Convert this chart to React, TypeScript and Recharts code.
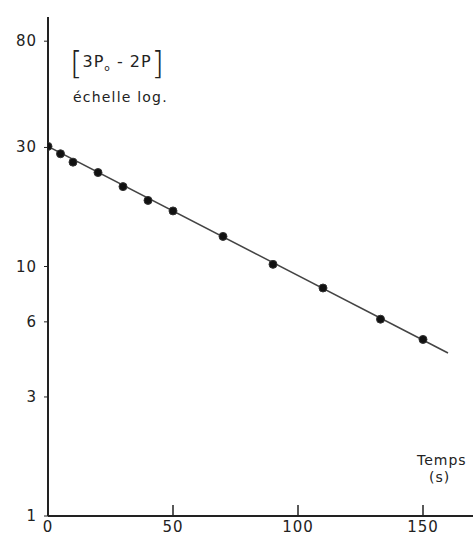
import { ComposedChart, Line, XAxis, YAxis } from "recharts";

// temps (s) and [3P0 - 2P]
const temps = [0, 5, 10, 20, 30, 40, 50, 70, 90, 110, 133, 150];
const valeurs = [30.3, 28.3, 26.2, 23.8, 20.9, 18.4, 16.7, 13.2, 10.2, 8.2, 6.15, 5.1];

// fitted straight line on the log scale
const droiteTemps = [0, 160];
const droiteValeurs = [30.3, 4.5];

const xTicks = [0, 50, 100, 150];
const yTicks = [1, 3, 6, 10, 30, 80];

const points = temps.map((t, i) => ({ t, v: valeurs[i] }));
const droite = droiteTemps.map((t, i) => ({ t, v: droiteValeurs[i] }));

const font = "'DejaVu Sans', sans-serif";
const ink = "#222";

function XTick(props: any) {
  const { x, y, payload } = props;
  return (
    <g>
      {payload.value !== 0 && <line x1={x} x2={x} y1={y - 11} y2={y} stroke={ink} strokeWidth={1.5} />}
      <text x={x} y={y + 16} textAnchor="middle" fontSize={15} fill={ink} fontFamily={font} letterSpacing={1}>
        {payload.value}
      </text>
    </g>
  );
}

function YTick(props: any) {
  const { x, y, payload } = props;
  return (
    <text x={x} y={y + 5} textAnchor="end" fontSize={15} fill={ink} fontFamily={font} letterSpacing={1}>
      {payload.value}
    </text>
  );
}

export default function App() {
  return (
    <div style={{ position: "absolute", left: 0, top: 0, width: 473, height: 535, background: "#fff" }}>
      <ComposedChart width={473} height={535} margin={{ top: 17, right: 0, left: 0, bottom: 0 }}>
        <XAxis
          dataKey="t"
          type="number"
          domain={[0, 170]}
          ticks={xTicks}
          tick={<XTick />}
          tickLine={false}
          tickSize={0}
          tickMargin={0}
          height={19}
          allowDataOverflow
          axisLine={{ stroke: ink, strokeWidth: 2 }}
        />
        <YAxis
          dataKey="v"
          type="number"
          scale="log"
          domain={[1, 100]}
          ticks={yTicks}
          tick={<YTick />}
          tickSize={4}
          tickMargin={7}
          tickLine={{ stroke: ink, strokeWidth: 1 }}
          width={48}
          allowDataOverflow
          axisLine={{ stroke: ink, strokeWidth: 2 }}
        />
        <Line
          data={droite}
          dataKey="v"
          stroke="#444"
          strokeWidth={1.5}
          dot={false}
          isAnimationActive={false}
        />
        <Line
          data={points}
          dataKey="v"
          stroke="none"
          dot={{ r: 4, fill: "#111", stroke: "#333", strokeWidth: 1 }}
          isAnimationActive={false}
        />
      </ComposedChart>
      <div style={{ position: "absolute", left: 70, top: 44, fontFamily: font, color: ink, whiteSpace: "nowrap" }}>
        <span style={{ fontSize: 32, fontWeight: 200, verticalAlign: "middle" }}>[</span>
        <span style={{ fontSize: 16, letterSpacing: 1, verticalAlign: "middle" }}>
          3P<sub style={{ fontSize: 9 }}>o</sub> - 2P
        </span>
        <span style={{ fontSize: 32, fontWeight: 200, verticalAlign: "middle" }}>]</span>
      </div>
      <div style={{ position: "absolute", left: 73, top: 89, fontFamily: font, fontSize: 14, letterSpacing: 1.2, color: ink }}>
        échelle log.
      </div>
      <div style={{ position: "absolute", left: 417, top: 452, fontFamily: font, fontSize: 14, letterSpacing: 1, color: ink }}>
        Temps
      </div>
      <div style={{ position: "absolute", left: 429, top: 469, fontFamily: font, fontSize: 14, letterSpacing: 1, color: ink }}>
        (s)
      </div>
    </div>
  );
}
